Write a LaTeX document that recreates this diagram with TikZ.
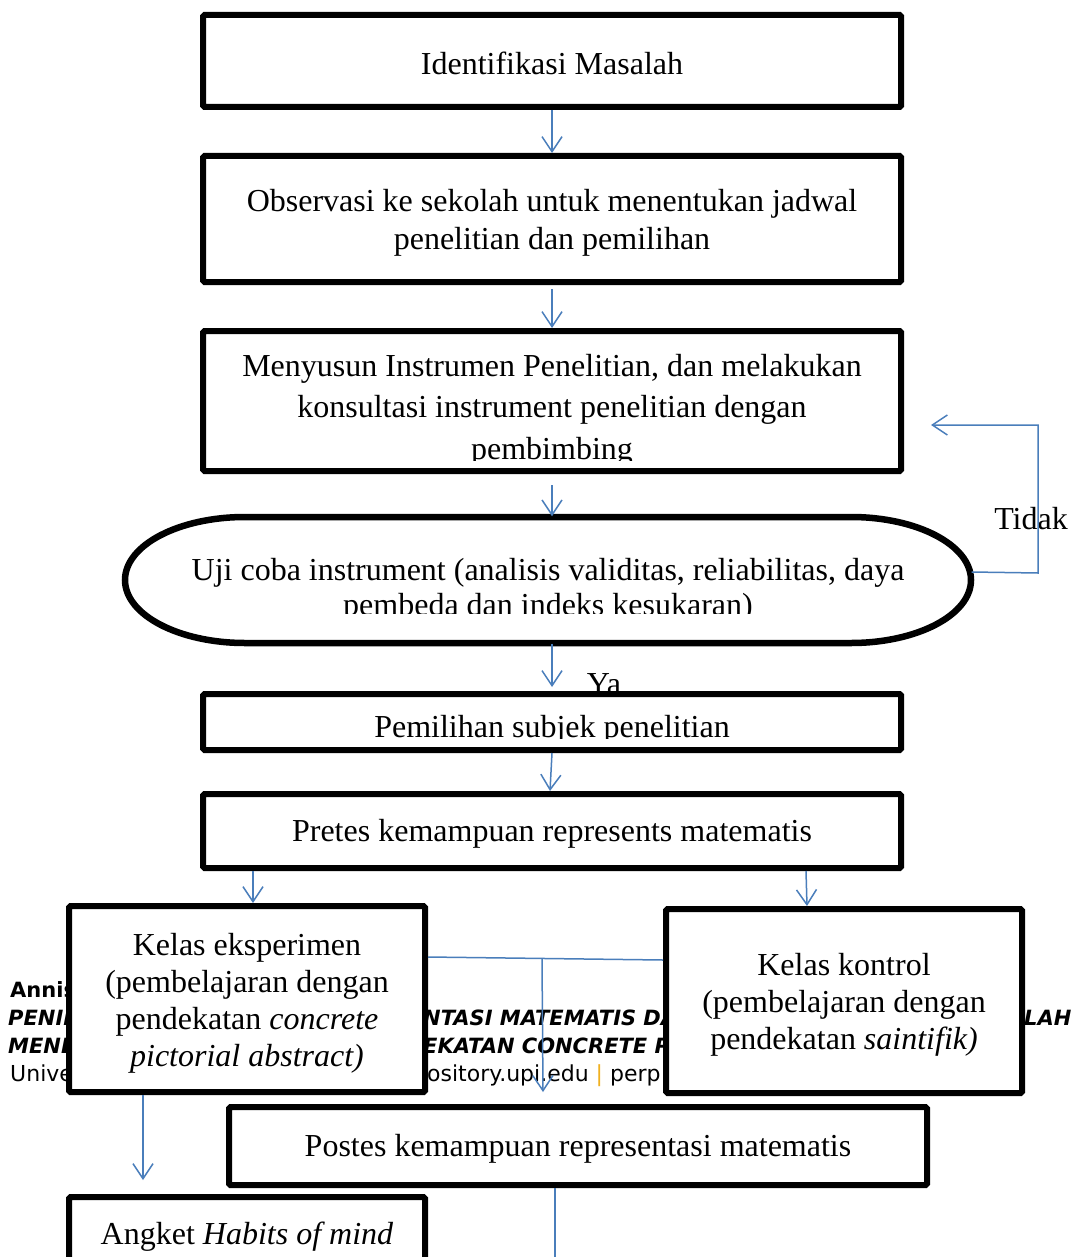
\documentclass[tikz,border=0pt]{standalone}
\usepackage{fontspec}
\setmainfont{Liberation Serif}
\newfontfamily\footfont{DejaVu Sans}
\usetikzlibrary{arrows.meta,shapes.geometric}
\definecolor{arrblue}{RGB}{74,126,187}
\definecolor{sepor}{RGB}{240,176,32}
\begin{document}
\begin{tikzpicture}[x=1pt,y=-1pt,
  box/.style={draw, line width=6pt, fill=white, rounded corners=1.5pt, inner sep=0pt},
  main/.style={font=\fontsize{32}{37}\selectfont, align=center, inner sep=0pt},
  foot/.style={font=\footfont\fontsize{22}{25}\selectfont, anchor=base west, inner sep=0pt},
  footbi/.style={font=\footfont\fontsize{21}{25}\selectfont\bfseries\itshape, anchor=base west, inner sep=0pt},
  arr/.style={draw=arrblue, line width=1.5pt, -{Straight Barb[length=15pt,width=20pt]}},
  ln/.style={draw=arrblue, line width=1.5pt}]
\useasboundingbox (0,0) rectangle (1076,1257);
\clip (0,0) rectangle (1076,1257);
\fill[white] (0,0) rectangle (1076,1257);

% footer fragments (partly hidden behind the boxes)
\node[foot, font=\footfont\fontsize{21}{25}\selectfont\bfseries] (fa) at (10,997) {Annis};
\node[footbi] (fb) at (8,1025) {PENIN};
\node[footbi] (fc) at (8,1053) {MENE};
\node[foot] (fd) at (10,1081) {Unive};
\node[footbi] (fe) at (423,1025) {NTASI MATEMATIS DA};
\node[footbi] (ff) at (423,1053) {EKATAN CONCRETE PI};
\node[foot] (fg) at (427,1081) {ository.upi.edu {\color{sepor}|} perp};
\node[footbi] (fh) at (1024,1025) {LAH};

% boxes
\node[box, minimum width=698pt, minimum height=92pt] (b1) at (552,61) {};
\node[main] (t1) at ([yshift=-2pt]b1.center) {Identifikasi Masalah};
\node[box, minimum width=698pt, minimum height=126pt] (b2) at (552,219) {};
\node[main, font=\fontsize{32}{38}\selectfont] (t2) at ([yshift=-4pt]b2.center) {Observasi ke sekolah untuk menentukan jadwal\\penelitian dan pemilihan};
\node[box, minimum width=698pt, minimum height=140pt] (b3) at (552,401) {};
\begin{scope}
  \clip (200,330) rectangle (904,460);
  \node[main, font=\fontsize{32}{41.5}\selectfont] (t3) at (552,410) {Menyusun Instrumen Penelitian, dan melakukan\\konsultasi instrument penelitian dengan\\pembimbing};
\end{scope}

\node[ellipse, minimum width=847pt, minimum height=127pt, inner sep=0pt] (el) at (548,580) {};
\draw[line width=6.5pt, fill=white]
  (245,517) -- (851,517)
  .. controls (917,517) and (971,545) .. (971,580)
  .. controls (971,615) and (917,643) .. (851,643)
  -- (245,643)
  .. controls (179,643) and (125,615) .. (125,580)
  .. controls (125,545) and (179,517) .. (245,517) -- cycle;
\begin{scope}
  \clip (120,510) rectangle (980,613);
  \node[main, font=\fontsize{32}{35}\selectfont] (tel) at (548,590) {Uji coba instrument (analisis validitas, reliabilitas, daya\\pembeda dan indeks kesukaran)};
\end{scope}

\node[main] (tidak) at (1031,519) {Tidak};
\draw[arr] ([yshift=8pt]el.east) -- (1038,573) -- (1038,425) -- ([xshift=27pt,yshift=-24pt]b3.east);

\node[main, anchor=base] (ya) at (604,694) {Ya};

\node[box, minimum width=698pt, minimum height=56pt] (b5) at (552,722) {};
\begin{scope}
  \clip (200,690) rectangle (904,738);
  \node[main, anchor=base] (t5) at (552,737) {Pemilihan subjek penelitian};
\end{scope}
\draw[arr, shorten >=4pt] ([xshift=4pt]el.south) -- (b5.north);

\node[box, minimum width=698pt, minimum height=74pt] (b6) at (552,831) {};
\node[main] (t6) at ([yshift=-3pt]b6.center) {Pretes kemampuan represents matematis};

\node[box, minimum width=356pt, minimum height=186pt] (b7) at (247,999) {};
\node[main] (t7) at ([yshift=-4pt]b7.center) {Kelas eksperimen\\(pembelajaran dengan\\pendekatan \textit{concrete}\\\textit{pictorial abstract)}};
\node[box, minimum width=356pt, minimum height=184pt] (b8) at (844,1001) {};
\node[main] (t8) at ([yshift=-4pt]b8.center) {Kelas kontrol\\(pembelajaran dengan\\pendekatan \textit{saintifik)}};

\node[box, minimum width=698pt, minimum height=78pt] (b9) at (578,1146) {};
\node[main] (t9) at ([yshift=-3pt]b9.center) {Postes kemampuan representasi matematis};

\node[box, minimum width=356pt, minimum height=140pt] (b10) at (247,1267) {};
\node[main] (t10) at (247,1237) {Angket \textit{Habits of mind}};

% connectors
\draw[arr] (b1.south) -- (b2.north);
\draw[arr, shorten <=4pt] (b2.south) -- (b3.north);
\draw[arr, shorten <=11pt] (b3.south) -- ([xshift=4pt]el.north);
\draw[arr] (b5.south) -- ([xshift=-2pt]b6.north);
\draw[arr] ([xshift=-299pt]b6.south) -- ([xshift=6pt]b7.north);
\draw[arr] ([xshift=254pt]b6.south) -- ([xshift=-37pt]b8.north);
\coordinate (junc) at (542,959);
\draw[ln] ([yshift=42pt]b7.east) -- ([yshift=41pt]b8.west);
\draw[arr] (junc) -- (543,1092) coordinate (jend);
\draw[arr, shorten >=14pt] ([xshift=-104pt]b7.south) -- ([xshift=-104pt]b10.north);
\draw[ln] ([xshift=-23pt]b9.south) -- (555,1257) coordinate (pend);
\end{tikzpicture}
\end{document}
